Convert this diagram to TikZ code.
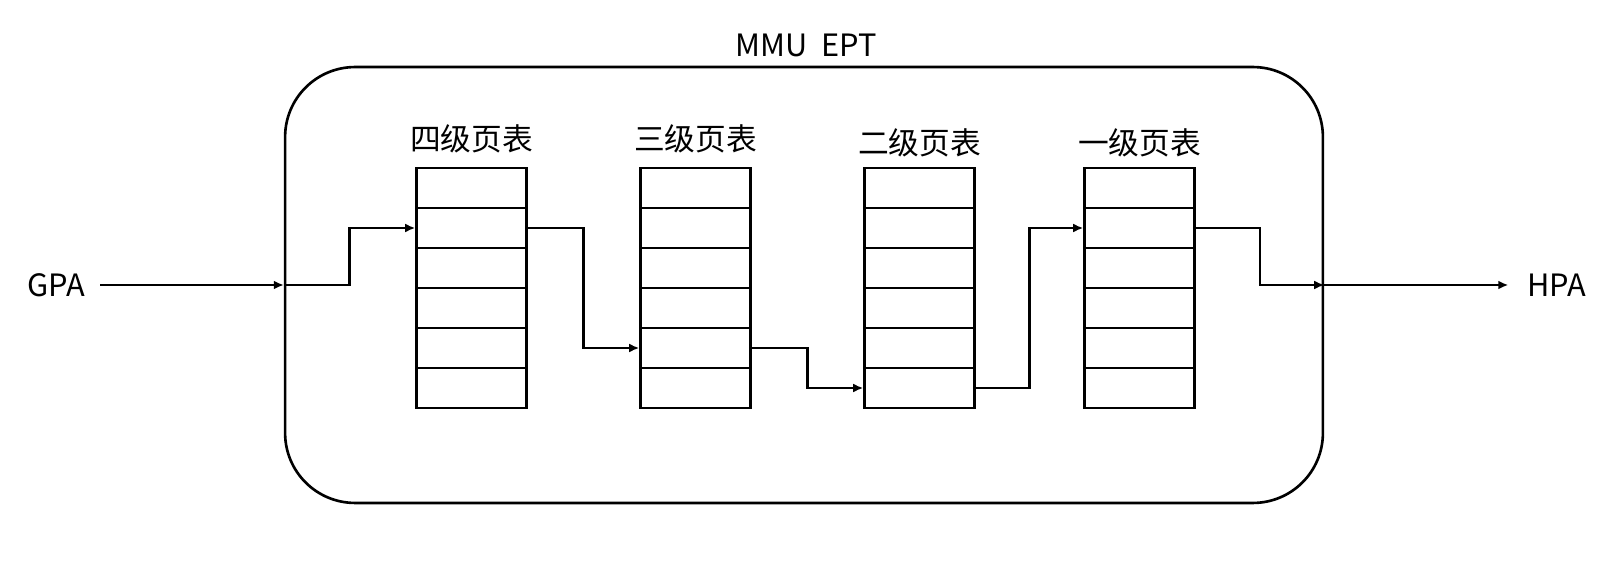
\documentclass[tikz,border=0pt]{standalone}
\usepackage{fontspec}
\setmainfont{Noto Sans CJK SC}
\usetikzlibrary{arrows.meta,calc}

\tikzset{
  cell/.style={draw, line width=1.5pt, minimum width=2.2cm, minimum height=0.8cm, inner sep=0pt},
  link/.style={line width=1.4pt, -{Latex[length=0.2cm,width=0.18cm]}},
  lbl/.style={font=\fontsize{17.5}{21}\selectfont, inner sep=0pt},
}

\begin{document}
\begin{tikzpicture}[x=0.02cm, y=-0.02cm]
  \useasboundingbox (0,0) rectangle (1600,567);
  \node (mmu) [draw, line width=1.5pt, rounded corners=1.4cm, minimum width=20.76cm, minimum height=8.72cm] at (804,285) {};
  \node (title) [lbl] at (806,45) {MMU\ \ EPT};
  % page tables
  \foreach \t/\cx/\cy/\lvl in {1/471.5/139/四级页表, 2/695.5/139/三级页表, 3/919.5/143/二级页表, 4/1139.5/143/一级页表} {
    \node (cap\t) [lbl] at (\cx,\cy) {\lvl};
    \foreach \r in {1,...,6}
      \node (t\t r\r) [cell] at (\cx,148+40*\r) {};
  }
  \node (gpa) [lbl] at (56,285) {GPA};
  \node (hpa) [lbl] at (1557,285) {HPA};
  \draw[link, shorten <=0.3cm] (gpa) -- (mmu.west);
  \draw[link] (mmu.west) -| ($(mmu.west)!0.5!(t1r2.west)$) |- (t1r2.west);
  \draw[link] (t1r2.east) -| ($(t1r2.east)!0.5!(t2r5.west)$) |- (t2r5.west);
  \draw[link] (t2r5.east) -| ($(t2r5.east)!0.5!(t3r6.west)$) |- (t3r6.west);
  \draw[link] (t3r6.east) -| ($(t3r6.east)!0.5!(t4r2.west)$) |- (t4r2.west);
  \draw[link] (t4r2.east) -| ($(t4r2.east)!0.5!(mmu.east)$) |- (mmu.east);
  \draw[link, shorten >=0.38cm] (mmu.east) -- (hpa);
\end{tikzpicture}
\end{document}
